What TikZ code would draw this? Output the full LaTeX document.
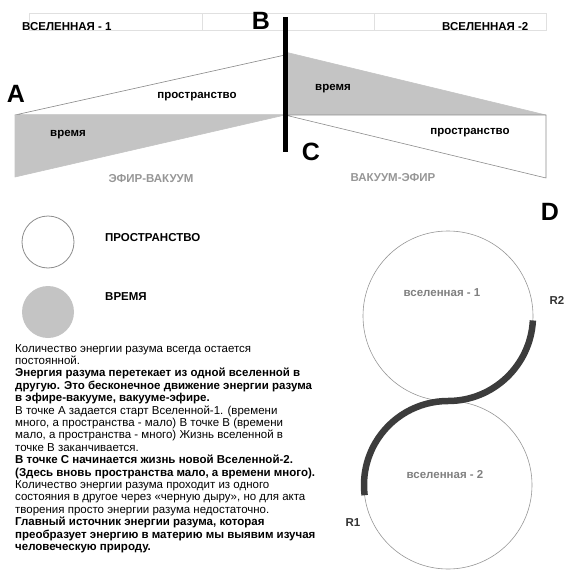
\documentclass[tikz,border=0pt]{standalone}
\usepackage{fontspec}
\setmainfont{Liberation Sans}
\usetikzlibrary{calc}

\definecolor{timegray}{RGB}{196,196,196}
\definecolor{edgegray}{RGB}{140,140,140}
\definecolor{labelgray}{RGB}{150,150,150}
\definecolor{ringgray}{RGB}{150,150,150}
\definecolor{pathdark}{RGB}{60,60,60}

\begin{document}
\begin{tikzpicture}[x=1pt,y=-1pt,
    lbl/.style={font=\bfseries\fontsize{11.5}{12}\selectfont, inner sep=0pt},
    biglbl/.style={font=\bfseries\fontsize{25}{25}\selectfont, inner sep=0pt},
    tri/.style={draw=edgegray, line width=0.6pt, line join=round}]
  \useasboundingbox (0,0) rectangle (568,578);
  \pgfmathsetmacro\rsmall{26}   % legend circles
  \pgfmathsetmacro\rone{85}     % universe 1
  \pgfmathsetmacro\rtwo{84}     % universe 2

% header strip
  \draw[black!12,thin] (29,13) rectangle (546,30);
  \draw[black!12,thin] (202,13) -- (202,30);
  \draw[black!12,thin] (374,13) -- (374,30);
  \node[lbl,anchor=base west] (u1) at (22,30.5) {ВСЕЛЕННАЯ - 1};
  \node[lbl,anchor=base west] (u2) at (442,31) {ВСЕЛЕННАЯ -2};

% corner points
  \coordinate (A)    at (15,115);
  \coordinate (Alow) at (15,177);
  \coordinate (Btop) at (285,55);
  \coordinate (Mid)  at (285,115);
  \coordinate (Ctop) at (285,52);
  \coordinate (Rmid) at (546,115);
  \coordinate (Rlow) at (546,178);

% universe 1: space and time wedges
  \filldraw[tri,fill=white] (A) -- (Btop) -- (Mid) -- cycle;
  \filldraw[tri,fill=timegray,draw=timegray] (A) -- (Mid) -- (Alow) -- cycle;
% universe 2
  \filldraw[tri,fill=timegray,draw=timegray] (Ctop) -- (Rmid) -- (Mid) -- cycle;
  \filldraw[tri,fill=white] (Mid) -- (Rmid) -- (Rlow) -- cycle;

% black hole bar
  \coordinate (bartop) at (285,17);
  \coordinate (barbot) at (285,152);
  \draw[black,line width=5pt] (bartop) -- (barbot);

  \node[biglbl,anchor=base] (la) at (16,102) {A};
  \node[biglbl,anchor=base] (lb) at (261,30) {B};
  \node[biglbl,anchor=base] (lc) at (311,160) {C};

  \node[lbl] (s1) at (197,97) {пространство};
  \node[lbl] (t1) at (68,135) {время};
  \node[lbl] (t2) at (333,89) {время};
  \node[lbl] (s2) at (470,133) {пространство};
  \node[lbl,text=labelgray] (ev) at (151,179) {ЭФИР-ВАКУУМ};
  \node[lbl,text=labelgray] (ve) at (393,178) {ВАКУУМ-ЭФИР};

% legend
  \draw[edgegray,line width=0.8pt] (48,242) circle[radius=\rsmall];
  \fill[timegray] (48,312) circle[radius=\rsmall];
  \node[lbl,anchor=west] (ls) at (105,238) {ПРОСТРАНСТВО};
  \node[lbl,anchor=west] (lt) at (105,297) {ВРЕМЯ};

% text block
  \node[anchor=north west,inner sep=0pt,align=left,
        font=\fontsize{11.5}{12.4}\selectfont] (txt) at (15,344) {%
    Количество энергии разума всегда остается\\
    постоянной.\\
    \textbf{Энергия разума перетекает из одной вселенной в}\\
    \textbf{другую. Это бесконечное движение энергии разума}\\
    \textbf{в эфире-вакууме, вакууме-эфире.}\\
    В точке А задается старт Вселенной-1. (времени\\
    много, а пространства - мало) В точке В (времени\\
    мало, а пространства - много) Жизнь вселенной в\\
    точке В заканчивается.\\
    \textbf{В точке С начинается жизнь новой Вселенной-2.}\\
    \textbf{(Здесь вновь пространства мало, а времени много).}\\
    Количество энергии разума проходит из одного\\
    состояния в другое через «черную дыру», но для акта\\
    творения просто энергии разума недостаточно.\\
    \textbf{Главный источник энергии разума, которая}\\
    \textbf{преобразует энергию в материю мы выявим изучая}\\
    \textbf{человеческую природу.}};

% two universes joined through D
  \coordinate (c1) at (448,316);
  \coordinate (c2) at (448,485);
  \draw[ringgray,line width=0.6pt] (c1) circle[radius=\rone];
  \draw[ringgray,line width=0.6pt] (c2) circle[radius=\rtwo];
  \draw[pathdark,line width=6.5pt] (c1) ++(3:\rone)
       arc[start angle=3,end angle=90,radius=\rone]
       arc[start angle=270,end angle=173,radius=\rtwo];

  \node[biglbl,anchor=base] (ld) at (550,220) {D};
  \node[lbl,text=black!50] (n1) at (442,293) {вселенная - 1};
  \node[lbl,text=black!50] (n2) at (445,475) {вселенная - 2};
  \node[lbl,text=black!80] (r2) at (557,300) {R2};
  \node[lbl,text=black!80] (r1) at (353,523) {R1};
\end{tikzpicture}
\end{document}
